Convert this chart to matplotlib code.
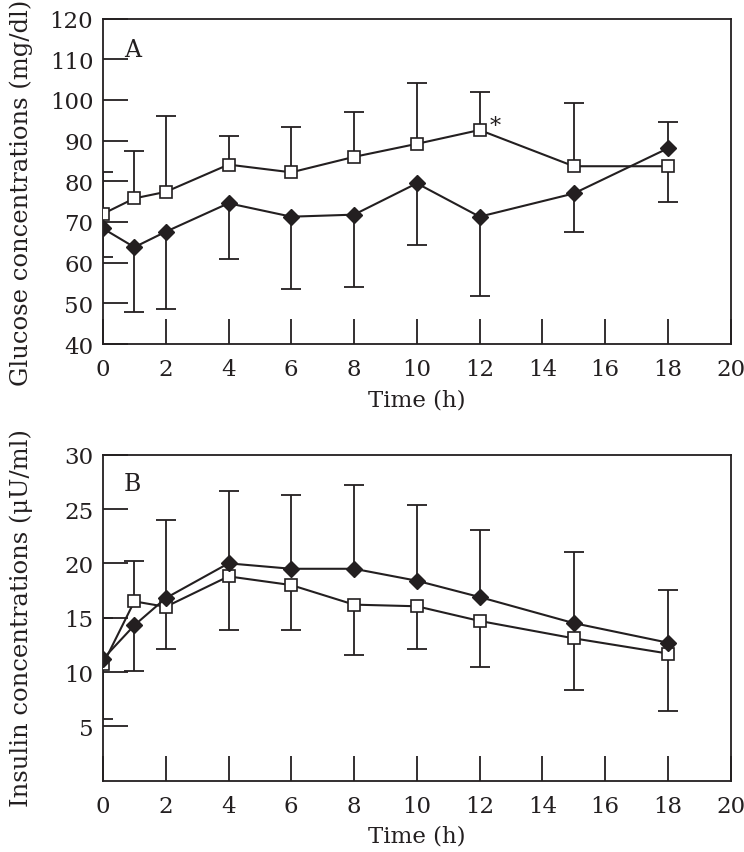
import numpy as np
import matplotlib
matplotlib.use('Agg')
import matplotlib.pyplot as plt

# =============================================================================
# Data
# =============================================================================
time = [0, 1, 2, 4, 6, 8, 10, 12, 15, 18]

# Panel A - glucose (mg/dl)
glu_sq = [72.0, 75.8, 77.4, 84.1, 82.2, 86.0, 89.2, 92.6, 83.7, 83.7]
glu_sq_bar = [82.2, 87.5, 96.0, 91.2, 93.3, 97.1, 104.1, 101.9, 99.2, 74.8]
glu_di = [68.4, 63.8, 67.6, 74.6, 71.3, 71.8, 79.5, 71.3, 77.0, 88.1]
glu_di_bar = [61.5, 47.8, 48.5, 60.9, 53.5, 53.9, 64.3, 51.8, 67.5, 94.6]

# Panel B - insulin (uU/ml)
ins_sq = [10.7, 16.5, 16.0, 18.8, 18.0, 16.2, 16.05, 14.7, 13.1, 11.7]
ins_sq_bar = [5.7, 20.2, 12.1, 13.9, 13.9, 11.6, 12.1, 10.5, 8.3, 6.4]
ins_di = [11.2, 14.3, 16.8, 20.0, 19.5, 19.5, 18.4, 16.9, 14.5, 12.7]
ins_di_bar = [15.0, 10.1, 24.0, 26.7, 26.3, 27.2, 25.4, 23.1, 21.0, 17.55]

xticks = np.arange(0, 21, 2)

ink = '#231f20'
plt.rcParams['font.family'] = ['DejaVu Serif']
plt.rcParams['font.size'] = 16
plt.rcParams['text.color'] = ink
plt.rcParams['axes.labelcolor'] = ink
plt.rcParams['xtick.color'] = ink
plt.rcParams['ytick.color'] = ink


def draw_panel(ax, sq, sq_bar, di, di_bar):
    # error bars: one-sided, from mean to tip
    for y, tip in [(sq, sq_bar), (di, di_bar)]:
        ax.vlines(time, y, tip, color=ink, lw=1.3, zorder=1)
        ax.plot(time, tip, ls='none', marker='_', ms=15, mew=1.3,
                color=ink, zorder=1)
    ax.plot(time, sq, '-', color=ink, lw=1.5, marker='s', ms=8,
            mfc='white', mec=ink, mew=1.2, zorder=3)
    ax.plot(time, di, '-', color=ink, lw=1.5, marker='D', ms=8,
            mfc=ink, mec=ink, zorder=4)
    ax.set_xlim(0, 20)
    ax.set_xticks(xticks)
    ax.tick_params(direction='in', length=18, width=1.3, labelsize=16.5)
    ax.tick_params(axis='x', pad=10)
    ax.tick_params(axis='y', pad=7)
    for s in ax.spines.values():
        s.set_linewidth(1.3)
        s.set_color(ink)
    ax.set_xlabel('Time (h)', labelpad=6, fontsize=16.5)


fig = plt.figure(figsize=(7.44, 8.53), dpi=100)

# Panel A
ax1 = fig.add_axes([0.1384, 0.5955, 0.8437, 0.3816])
draw_panel(ax1, glu_sq, glu_sq_bar, glu_di, glu_di_bar)
ax1.set_ylim(40, 120)
ax1.set_yticks(np.arange(40, 121, 10))
ax1.set_ylabel('Glucose concentrations (mg/dl)', fontsize=17.5)
ax1.yaxis.set_label_coords(-0.112, 0.467)
ax1.text(0.047, 0.905, 'A', transform=ax1.transAxes, ha='center',
         va='center', fontsize=17)
ax1.text(12.5, 93.6, '*', ha='center', va='center', fontsize=16)

# Panel B
ax2 = fig.add_axes([0.1384, 0.0836, 0.8437, 0.3822])
draw_panel(ax2, ins_sq, ins_sq_bar, ins_di, ins_di_bar)
ax2.set_ylim(0, 30)
ax2.set_yticks(np.arange(5, 31, 5))
ax2.set_ylabel('Insulin concentrations (\u03bcU/ml)', fontsize=17.5)
ax2.yaxis.set_label_coords(-0.112, 0.502)
ax2.text(0.047, 0.912, 'B', transform=ax2.transAxes, ha='center',
         va='center', fontsize=17)

fig.savefig('out.png', dpi=100)
